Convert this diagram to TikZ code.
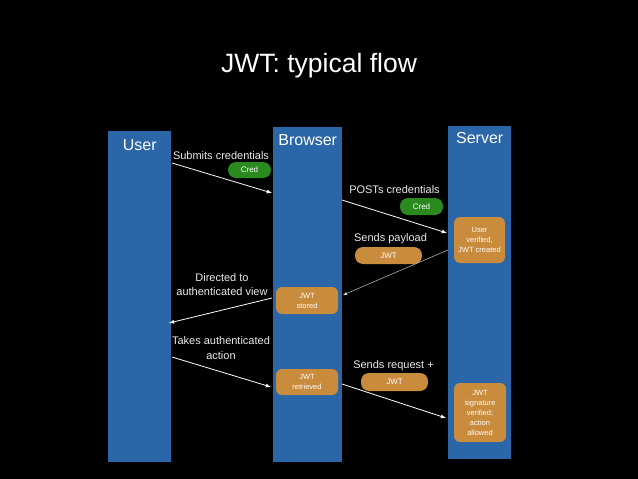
\documentclass[tikz,border=0pt]{standalone}
\usepackage{fontspec}
\setmainfont{Liberation Sans}
\usetikzlibrary{arrows, positioning}
\definecolor{laneblue}{HTML}{2A66A8}
\definecolor{tokenorange}{HTML}{C98B3C}
\definecolor{credgreen}{HTML}{2B8A1E}
\tikzstyle{lane} = [rectangle, 
			fill=laneblue, 
			anchor=north west, 
			inner sep=0pt]
\tikzstyle{lanetitle} = [text=white, 
			font=\fontsize{16}{18}\selectfont]
\tikzstyle{msg} = [text=white!92!black, 
			align=center, 
			font=\fontsize{11}{14.5}\selectfont]
\tikzstyle{state} = [rectangle, 
			fill=tokenorange, 
			rounded corners=6pt, 
			text=white, 
			align=center, 
			inner sep=0pt, 
			font=\fontsize{7.5}{10}\selectfont]
\tikzstyle{pill} = [rectangle, 
			rounded corners=8pt, 
			text=white, 
			inner sep=0pt, 
			font=\fontsize{8}{10}\selectfont]
\tikzstyle{line} = [draw, white, line width=0.8pt, -latex]

\begin{document}
\begin{tikzpicture}[x=1pt, y=-1pt]
	\fill [black] (0,0) rectangle (638,479);
	\useasboundingbox (0,0) rectangle (638,479);
	\node [text=white, font=\fontsize{26.5}{30}\selectfont] (title) at (319,66) {JWT: typical flow};
	% lanes
	\node [lane, minimum width=63, minimum height=331] (user) at (108,131) {};
	\node [lane, minimum width=69, minimum height=335] (browser) at (273,127) {};
	\node [lane, minimum width=63, minimum height=333] (server) at (448,126) {};
	\node [lanetitle] (userT) at ([yshift=-14pt]user.north) {User};
	\node [lanetitle] (browserT) at ([yshift=-13pt]browser.north) {Browser};
	\node [lanetitle] (serverT) at ([yshift=-12pt]server.north) {Server};
	% states
	\node [state, minimum width=51, minimum height=46] (created) at (479.5,240) {User\\verified,\\JWT created};
	\node [state, minimum width=62, minimum height=27] (stored) at (307,300.5) {JWT\\stored};
	\node [state, minimum width=62, minimum height=26] (retrieved) at (307,382) {JWT\\retrieved};
	\node [state, minimum width=52, minimum height=59] (allowed) at (480,412.5) {JWT\\signature\\verified;\\action\\allowed};
	% messages
	\node [msg] (submits) at (221,156) {Submits credentials};
	\node [pill, fill=credgreen, minimum width=43, minimum height=16] (cred1) at (249.5,170) {Cred};
	\node [msg] (posts) at (394.5,190) {POSTs credentials};
	\node [pill, fill=credgreen, minimum width=43, minimum height=17] (cred2) at (421.5,206.5) {Cred};
	\node [msg] (payload) at (390.5,239) {Sends payload};
	\node [pill, fill=tokenorange, minimum width=67, minimum height=17] (jwt1) at (388.5,255.5) {JWT};
	\node [msg] (directed) at (222,284.5) {Directed to\\authenticated view};
	\node [msg] (takes) at (221,348) {Takes authenticated\\action};
	\node [msg] (request) at (393.5,366) {Sends request +};
	\node [pill, fill=tokenorange, minimum width=67, minimum height=18] (jwt2) at (394.5,382) {JWT};
	% arrow ends
	\coordinate (u1) at (172,163);
	\coordinate (b1) at (272,193);
	\coordinate (b2) at (342,200);
	\coordinate (s2) at (447,233);
	\coordinate (s3) at (448,250);
	\coordinate (b3) at (343,295);
	\coordinate (b4) at (272,298);
	\coordinate (u4) at (169,323);
	\coordinate (u5) at (172,357);
	\coordinate (b5) at (271,387);
	\coordinate (b6) at (342,384);
	\coordinate (s6) at (446,418);
	\path [line] (u1) -- (b1);
	\path [line] (b2) -- (s2);
	\path [line, line width=0.4pt, white!85!black] (s3) -- (b3);
	\path [line] (b4) -- (u4);
	\path [line] (u5) -- (b5);
	\path [line] (b6) -- (s6);
\end{tikzpicture}
\end{document}
